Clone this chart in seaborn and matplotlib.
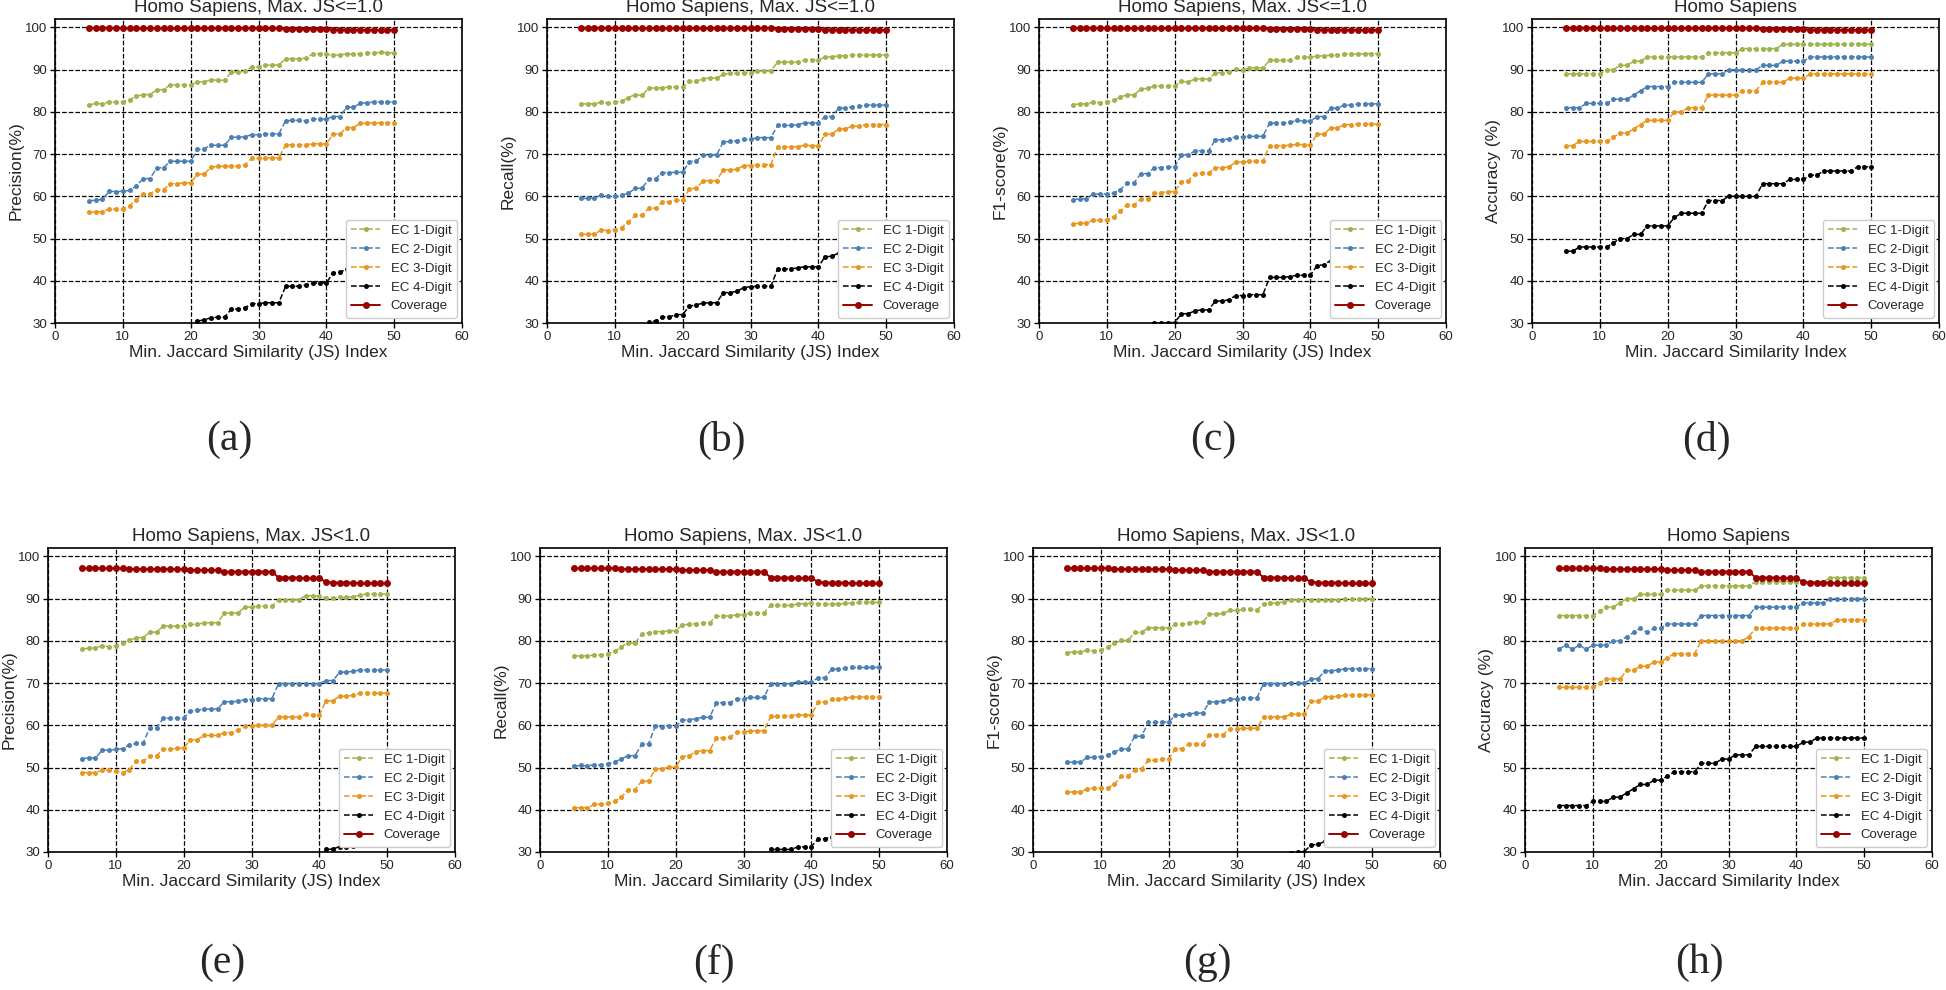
import matplotlib
matplotlib.use('Agg')
import matplotlib.pyplot as plt
import seaborn as sns

# Min. Jaccard similarity index (x axis)
JS_INDEX = [5, 6, 7, 8, 9, 10, 11, 12, 13, 14,
            15, 16, 17, 18, 19, 20, 21, 22, 23, 24,
            25, 26, 27, 28, 29, 30, 31, 32, 33, 34,
            35, 36, 37, 38, 39, 40, 41, 42, 43, 44,
            45, 46, 47, 48, 49, 50]

SERIES = ['EC 1-Digit', 'EC 2-Digit', 'EC 3-Digit', 'EC 4-Digit', 'Coverage']

# coverage, shared by each row
COV_LE = [99.9, 99.9, 99.9, 99.9, 99.9, 99.9, 99.8, 99.8, 99.8, 99.8,
          99.8, 99.8, 99.8, 99.8, 99.8, 99.8, 99.8, 99.8, 99.8, 99.8,
          99.8, 99.8, 99.8, 99.8, 99.8, 99.8, 99.8, 99.8, 99.8, 99.6,
          99.6, 99.6, 99.6, 99.6, 99.6, 99.6, 99.5, 99.5, 99.5, 99.5,
          99.4, 99.4, 99.4, 99.4, 99.4, 99.4]
COV_LT = [97.2, 97.2, 97.2, 97.2, 97.2, 97.2, 97.2, 97.0, 97.0, 97.0,
          97.0, 97.0, 97.0, 97.0, 97.0, 97.0, 96.8, 96.8, 96.8, 96.8,
          96.8, 96.4, 96.4, 96.4, 96.4, 96.4, 96.4, 96.4, 96.4, 95.0,
          95.0, 95.0, 95.0, 94.8, 94.8, 94.8, 94.0, 93.8, 93.8, 93.8,
          93.8, 93.6, 93.6, 93.6, 93.6, 93.6]

# (a) precision, max JS <= 1.0
PREC_LE_EC1 = [81.6, 82.0, 81.9, 82.4, 82.3, 82.4, 82.9, 83.7, 84.1, 84.1,
               85.2, 85.3, 86.4, 86.4, 86.4, 86.4, 87.1, 87.1, 87.6, 87.5,
               87.5, 89.4, 89.5, 89.6, 90.7, 90.7, 91.1, 91.1, 91.1, 92.6,
               92.6, 92.6, 92.7, 93.8, 93.8, 93.7, 93.4, 93.5, 93.7, 93.7,
               93.8, 93.9, 94.0, 94.1, 94.0, 94.0]
PREC_LE_EC2 = [58.9, 59.1, 59.3, 61.2, 61.1, 61.2, 61.4, 62.5, 64.2, 64.2,
               66.7, 66.8, 68.3, 68.3, 68.3, 68.3, 71.1, 71.3, 72.1, 72.1,
               72.1, 74.0, 74.0, 74.1, 74.6, 74.6, 74.8, 74.8, 74.8, 77.9,
               78.0, 78.0, 77.9, 78.4, 78.3, 78.3, 78.9, 78.9, 81.1, 81.1,
               82.0, 82.2, 82.3, 82.4, 82.4, 82.3]
PREC_LE_EC3 = [56.3, 56.3, 56.4, 57.0, 56.9, 57.0, 57.8, 59.2, 60.6, 60.6,
               61.6, 61.6, 63.0, 63.0, 63.2, 63.2, 65.2, 65.3, 66.9, 67.1,
               67.1, 67.1, 67.1, 67.5, 69.0, 69.0, 69.1, 69.1, 69.1, 72.2,
               72.2, 72.2, 72.2, 72.5, 72.4, 72.4, 74.8, 74.8, 76.3, 76.3,
               77.3, 77.3, 77.4, 77.4, 77.4, 77.4]
PREC_LE_EC4 = [22.0, 22.2, 22.3, 23.3, 23.3, 23.4, 23.6, 24.5, 25.8, 25.8,
               27.3, 27.4, 28.6, 28.6, 28.6, 28.7, 30.4, 30.8, 31.2, 31.4,
               31.4, 33.3, 33.3, 33.6, 34.6, 34.6, 34.8, 34.8, 34.8, 38.7,
               38.7, 38.7, 39.0, 39.4, 39.5, 39.5, 41.9, 42.0, 42.8, 42.8,
               43.1, 43.5, 43.6, 43.7, 43.7, 43.7]

# (b) recall, max JS <= 1.0
REC_LE_EC1 = [81.9, 81.9, 81.9, 82.3, 82.1, 82.3, 82.5, 83.4, 84.1, 83.9,
              85.6, 85.7, 85.7, 85.9, 85.9, 85.9, 87.2, 87.2, 87.9, 88.0,
              88.0, 88.9, 89.1, 89.1, 89.3, 89.3, 89.7, 89.7, 89.7, 91.8,
              91.8, 91.8, 91.8, 92.3, 92.3, 92.3, 93.0, 93.0, 93.3, 93.3,
              93.5, 93.5, 93.5, 93.5, 93.5, 93.5]
REC_LE_EC2 = [59.5, 59.5, 59.7, 60.2, 60.0, 60.0, 60.3, 60.7, 61.9, 61.9,
              64.1, 64.2, 65.6, 65.6, 65.7, 65.7, 68.2, 68.4, 69.7, 69.8,
              69.8, 72.9, 73.0, 73.2, 73.5, 73.5, 73.9, 73.9, 73.9, 76.8,
              76.8, 76.8, 77.0, 77.4, 77.4, 77.4, 78.9, 78.9, 80.9, 80.9,
              81.2, 81.3, 81.6, 81.6, 81.6, 81.6]
REC_LE_EC3 = [51.0, 51.0, 51.1, 52.0, 51.9, 52.1, 52.6, 54.0, 55.5, 55.5,
              57.2, 57.2, 58.7, 58.7, 59.1, 59.1, 61.8, 61.9, 63.7, 63.7,
              63.7, 66.3, 66.3, 66.4, 67.3, 67.3, 67.5, 67.5, 67.5, 71.7,
              71.7, 71.7, 71.8, 72.1, 72.0, 72.0, 74.7, 74.7, 76.0, 76.0,
              76.6, 76.6, 77.0, 77.0, 77.0, 77.0]
REC_LE_EC4 = [24.5, 24.6, 24.7, 25.2, 25.2, 25.3, 25.6, 26.5, 27.6, 27.6,
              30.2, 30.5, 31.4, 31.4, 32.0, 32.0, 34.0, 34.3, 34.7, 34.8,
              34.8, 37.2, 37.2, 37.5, 38.4, 38.6, 38.7, 38.7, 38.7, 42.8,
              42.8, 42.8, 43.1, 43.3, 43.3, 43.3, 45.7, 45.8, 46.6, 46.6,
              46.8, 47.0, 47.2, 47.3, 47.3, 47.3]

# (c) F1-score, max JS <= 1.0
F1_LE_EC1 = [81.7, 81.9, 81.9, 82.3, 82.2, 82.3, 82.7, 83.5, 84.1, 84.0,
             85.4, 85.6, 86.1, 86.1, 86.1, 86.1, 87.2, 87.1, 87.8, 87.8,
             87.8, 89.2, 89.3, 89.5, 90.2, 90.0, 90.4, 90.4, 90.4, 92.2,
             92.2, 92.2, 92.2, 92.9, 92.9, 93.0, 93.2, 93.3, 93.4, 93.4,
             93.7, 93.7, 93.7, 93.8, 93.8, 93.8]
F1_LE_EC2 = [59.2, 59.4, 59.4, 60.6, 60.5, 60.6, 60.8, 61.6, 63.2, 63.2,
             65.3, 65.4, 66.8, 66.8, 67.0, 67.0, 69.8, 69.8, 70.8, 70.8,
             70.8, 73.4, 73.4, 73.6, 74.1, 74.1, 74.2, 74.2, 74.2, 77.4,
             77.4, 77.4, 77.5, 78.0, 77.8, 77.8, 78.9, 78.9, 80.9, 80.9,
             81.6, 81.6, 81.9, 81.9, 81.9, 81.9]
F1_LE_EC3 = [53.5, 53.6, 53.6, 54.4, 54.3, 54.5, 55.2, 56.5, 58.0, 58.0,
             59.3, 59.4, 60.9, 60.9, 61.1, 61.1, 63.5, 63.7, 65.4, 65.5,
             65.5, 66.8, 66.8, 67.0, 68.1, 68.1, 68.3, 68.3, 68.3, 72.0,
             72.0, 72.0, 72.1, 72.3, 72.2, 72.2, 74.7, 74.7, 76.2, 76.2,
             77.0, 77.0, 77.1, 77.1, 77.1, 77.1]
F1_LE_EC4 = [23.5, 23.6, 23.6, 24.3, 24.3, 24.4, 24.6, 25.5, 26.7, 26.7,
             28.2, 28.3, 29.9, 29.9, 30.1, 30.1, 32.2, 32.2, 32.9, 33.1,
             33.1, 35.2, 35.2, 35.5, 36.5, 36.5, 36.7, 36.7, 36.7, 40.8,
             40.8, 40.8, 41.0, 41.3, 41.3, 41.3, 43.6, 43.8, 44.8, 44.8,
             45.0, 45.2, 45.4, 45.5, 45.5, 45.5]

# (d) accuracy, max JS <= 1.0
ACC_LE_EC1 = [89, 89, 89, 89, 89, 89, 90, 90, 91, 91,
              92, 92, 93, 93, 93, 93, 93, 93, 93, 93,
              93, 94, 94, 94, 94, 94, 95, 95, 95, 95,
              95, 95, 96, 96, 96, 96, 96, 96, 96, 96,
              96, 96, 96, 96, 96, 96]
ACC_LE_EC2 = [81, 81, 81, 82, 82, 82, 82, 83, 83, 83,
              84, 85, 86, 86, 86, 86, 87, 87, 87, 87,
              87, 89, 89, 89, 90, 90, 90, 90, 90, 91,
              91, 91, 92, 92, 92, 92, 93, 93, 93, 93,
              93, 93, 93, 93, 93, 93]
ACC_LE_EC3 = [72, 72, 73, 73, 73, 73, 73, 74, 75, 75,
              76, 77, 78, 78, 78, 78, 80, 80, 81, 81,
              81, 84, 84, 84, 84, 84, 85, 85, 85, 87,
              87, 87, 87, 88, 88, 88, 89, 89, 89, 89,
              89, 89, 89, 89, 89, 89]
ACC_LE_EC4 = [47, 47, 48, 48, 48, 48, 48, 49, 50, 50,
              51, 51, 53, 53, 53, 53, 55, 56, 56, 56,
              56, 59, 59, 59, 60, 60, 60, 60, 60, 63,
              63, 63, 63, 64, 64, 64, 65, 65, 66, 66,
              66, 66, 66, 67, 67, 67]

# (e) precision, max JS < 1.0
PREC_LT_EC1 = [78.0, 78.3, 78.3, 78.9, 78.6, 78.9, 79.4, 80.1, 80.8, 80.8,
               82.0, 82.1, 83.5, 83.5, 83.5, 83.5, 83.9, 83.9, 84.3, 84.3,
               84.3, 86.6, 86.6, 86.6, 88.0, 88.0, 88.2, 88.2, 88.2, 89.8,
               89.8, 89.6, 89.8, 90.7, 90.7, 90.6, 90.2, 90.2, 90.3, 90.3,
               90.5, 90.8, 91.1, 91.1, 91.1, 91.1]
PREC_LT_EC2 = [52.1, 52.3, 52.2, 54.2, 54.1, 54.3, 54.5, 55.4, 55.7, 55.7,
               59.4, 59.4, 61.7, 61.7, 61.7, 61.7, 63.4, 63.6, 63.8, 63.9,
               63.9, 65.6, 65.6, 65.7, 66.1, 66.1, 66.3, 66.3, 66.3, 69.9,
               69.9, 69.9, 69.9, 69.9, 69.8, 69.9, 70.6, 70.6, 72.6, 72.6,
               72.8, 73.1, 73.1, 73.1, 73.1, 73.1]
PREC_LT_EC3 = [48.8, 48.8, 48.8, 49.4, 49.4, 49.2, 48.8, 49.5, 51.5, 51.5,
               52.8, 52.8, 54.4, 54.3, 54.6, 54.6, 56.6, 56.6, 57.6, 57.6,
               57.6, 58.3, 58.3, 58.9, 59.9, 59.9, 60.0, 60.0, 60.0, 62.0,
               62.0, 62.0, 62.0, 62.6, 62.5, 62.5, 65.8, 65.8, 66.9, 66.9,
               67.1, 67.6, 67.6, 67.6, 67.6, 67.6]
PREC_LT_EC4 = [15.0, 15.2, 15.2, 16.0, 16.0, 16.1, 16.3, 16.8, 17.0, 17.0,
               18.5, 18.5, 19.6, 19.6, 19.6, 19.6, 20.4, 20.5, 20.6, 20.6,
               20.6, 21.4, 21.4, 21.5, 22.0, 22.0, 22.1, 22.1, 22.1, 25.5,
               25.5, 25.5, 25.5, 26.0, 26.0, 26.0, 30.6, 30.7, 31.3, 31.3,
               31.5, 31.7, 31.8, 31.9, 31.9, 31.9]

# (f) recall, max JS < 1.0
REC_LT_EC1 = [76.4, 76.5, 76.4, 76.7, 76.7, 77.0, 77.5, 78.6, 79.6, 79.4,
              81.7, 81.9, 82.2, 82.2, 82.4, 82.4, 83.8, 83.9, 84.1, 84.3,
              84.3, 85.8, 85.9, 85.9, 86.2, 86.2, 86.6, 86.6, 86.6, 88.4,
              88.4, 88.4, 88.4, 88.8, 88.8, 88.9, 88.8, 88.7, 88.7, 88.7,
              88.9, 88.9, 89.1, 89.1, 89.1, 89.1]
REC_LT_EC2 = [50.3, 50.5, 50.4, 50.7, 50.6, 50.9, 51.3, 52.1, 52.8, 52.8,
              55.5, 55.6, 59.8, 59.7, 59.8, 59.8, 61.2, 61.3, 61.6, 61.9,
              61.9, 65.3, 65.4, 65.4, 66.3, 66.3, 66.6, 66.6, 66.6, 69.8,
              69.8, 69.8, 69.9, 70.3, 70.2, 70.2, 71.3, 71.3, 73.3, 73.3,
              73.5, 73.7, 73.7, 73.7, 73.7, 73.7]
REC_LT_EC3 = [40.5, 40.5, 40.5, 41.3, 41.3, 41.5, 42.0, 43.0, 44.8, 44.8,
              46.8, 46.8, 49.7, 49.7, 50.1, 50.1, 52.6, 52.8, 53.8, 54.0,
              54.0, 57.0, 57.0, 57.2, 58.4, 58.4, 58.7, 58.7, 58.7, 62.1,
              62.1, 62.1, 62.3, 62.5, 62.4, 62.4, 65.6, 65.5, 66.2, 66.2,
              66.4, 66.7, 66.7, 66.7, 66.7, 66.7]
REC_LT_EC4 = [17.5, 17.6, 17.6, 17.9, 17.9, 18.0, 18.3, 18.8, 19.4, 19.4,
              20.6, 20.6, 22.5, 22.5, 22.6, 22.6, 23.5, 23.6, 23.8, 24.0,
              24.0, 25.8, 25.9, 25.9, 26.5, 26.5, 26.7, 26.7, 26.7, 30.6,
              30.6, 30.6, 30.6, 31.2, 31.2, 31.3, 33.1, 33.1, 33.6, 33.6,
              33.9, 34.1, 34.2, 34.3, 34.3, 34.3]

# (g) F1-score, max JS < 1.0
F1_LT_EC1 = [77.2, 77.4, 77.4, 77.8, 77.6, 77.8, 78.5, 79.4, 80.1, 80.1,
             82.0, 82.0, 83.1, 83.1, 83.1, 83.1, 83.9, 83.9, 84.3, 84.4,
             84.4, 86.3, 86.3, 86.5, 87.2, 87.2, 87.5, 87.5, 87.3, 88.8,
             88.9, 89.0, 89.2, 89.7, 89.7, 89.8, 89.6, 89.6, 89.6, 89.6,
             89.8, 90.0, 90.0, 90.0, 90.0, 90.0]
F1_LT_EC2 = [51.2, 51.3, 51.3, 52.4, 52.4, 52.6, 52.9, 53.7, 54.4, 54.4,
             57.4, 57.4, 60.7, 60.7, 60.8, 60.8, 62.4, 62.4, 62.7, 62.9,
             62.9, 65.5, 65.6, 65.7, 66.2, 66.2, 66.5, 66.5, 66.5, 69.9,
             69.9, 69.9, 69.9, 70.1, 70.0, 70.0, 71.0, 71.0, 72.9, 72.9,
             73.1, 73.4, 73.4, 73.4, 73.4, 73.4]
F1_LT_EC3 = [44.2, 44.2, 44.2, 45.0, 45.1, 45.2, 45.2, 46.0, 47.9, 47.9,
             49.5, 49.7, 51.7, 51.7, 52.1, 52.1, 54.4, 54.5, 55.6, 55.6,
             55.6, 57.7, 57.7, 57.8, 59.2, 59.2, 59.3, 59.3, 59.3, 62.0,
             62.0, 62.0, 62.0, 62.6, 62.6, 62.6, 65.7, 65.7, 66.7, 66.7,
             66.9, 67.1, 67.2, 67.2, 67.2, 67.2]
F1_LT_EC4 = [16.5, 16.6, 16.6, 17.2, 17.2, 17.3, 17.5, 18.0, 18.4, 18.4,
             19.8, 19.8, 21.3, 21.3, 21.4, 21.4, 22.3, 22.4, 22.6, 22.7,
             22.7, 24.1, 24.2, 24.2, 24.9, 24.9, 25.1, 25.1, 25.1, 29.0,
             29.0, 29.0, 29.1, 29.8, 29.9, 30.1, 31.7, 31.8, 32.5, 32.5,
             32.7, 32.9, 33.0, 33.1, 33.1, 33.1]

# (h) accuracy, max JS < 1.0
ACC_LT_EC1 = [86, 86, 86, 86, 86, 86, 87, 88, 88, 89,
              90, 90, 91, 91, 91, 91, 92, 92, 92, 92,
              92, 93, 93, 93, 93, 93, 93, 93, 93, 94,
              94, 94, 94, 94, 94, 94, 94, 94, 94, 94,
              95, 95, 95, 95, 95, 95]
ACC_LT_EC2 = [78, 79, 78, 79, 78, 79, 79, 79, 80, 80,
              81, 82, 83, 82, 83, 83, 84, 84, 84, 84,
              84, 86, 86, 86, 86, 86, 86, 86, 86, 88,
              88, 88, 88, 88, 88, 88, 89, 89, 89, 89,
              90, 90, 90, 90, 90, 90]
ACC_LT_EC3 = [69, 69, 69, 69, 69, 69, 70, 71, 71, 71,
              73, 73, 74, 74, 75, 75, 76, 77, 77, 77,
              77, 80, 80, 80, 80, 80, 80, 80, 81, 83,
              83, 83, 83, 83, 83, 83, 84, 84, 84, 84,
              84, 85, 85, 85, 85, 85]
ACC_LT_EC4 = [41, 41, 41, 41, 41, 42, 42, 42, 43, 43,
              44, 45, 46, 46, 47, 47, 48, 49, 49, 49,
              49, 51, 51, 51, 52, 52, 53, 53, 53, 55,
              55, 55, 55, 55, 55, 55, 56, 56, 57, 57,
              57, 57, 57, 57, 57, 57]

TITLE_LE = 'Homo Sapiens, Max. JS<=1.0'
TITLE_LT = 'Homo Sapiens, Max. JS<1.0'
XLABEL_JS = 'Min. Jaccard Similarity (JS) Index'
XLABEL_PLAIN = 'Min. Jaccard Similarity Index'

# (letter, title, ylabel, xlabel, series list)
PANELS = [
    ('(a)', TITLE_LE, 'Precision(%)', XLABEL_JS, [PREC_LE_EC1, PREC_LE_EC2, PREC_LE_EC3, PREC_LE_EC4, COV_LE]),
    ('(b)', TITLE_LE, 'Recall(%)', XLABEL_JS, [REC_LE_EC1, REC_LE_EC2, REC_LE_EC3, REC_LE_EC4, COV_LE]),
    ('(c)', TITLE_LE, 'F1-score(%)', XLABEL_JS, [F1_LE_EC1, F1_LE_EC2, F1_LE_EC3, F1_LE_EC4, COV_LE]),
    ('(d)', 'Homo Sapiens', 'Accuracy (%)', XLABEL_PLAIN, [ACC_LE_EC1, ACC_LE_EC2, ACC_LE_EC3, ACC_LE_EC4, COV_LE]),
    ('(e)', TITLE_LT, 'Precision(%)', XLABEL_JS, [PREC_LT_EC1, PREC_LT_EC2, PREC_LT_EC3, PREC_LT_EC4, COV_LT]),
    ('(f)', TITLE_LT, 'Recall(%)', XLABEL_JS, [REC_LT_EC1, REC_LT_EC2, REC_LT_EC3, REC_LT_EC4, COV_LT]),
    ('(g)', TITLE_LT, 'F1-score(%)', XLABEL_JS, [F1_LT_EC1, F1_LT_EC2, F1_LT_EC3, F1_LT_EC4, COV_LT]),
    ('(h)', 'Homo Sapiens', 'Accuracy (%)', XLABEL_PLAIN, [ACC_LT_EC1, ACC_LT_EC2, ACC_LT_EC3, ACC_LT_EC4, COV_LT]),
]

COLORS = ['#9db54c', '#4c80b5', '#e8961e', 'black', '#990000']

sns.set_theme(style='ticks')
plt.rcParams['font.family'] = ['Liberation Sans', 'DejaVu Sans']

W, H = 1946, 990
fig = plt.figure(figsize=(W / 100, H / 100), dpi=100)

# axes placement in pixels: left edges per row, top edges per row
lefts = [[55, 547, 1039, 1532], [48, 540, 1033, 1525]]
tops = [19, 548]
ax_w, ax_h = 407, 304

for i, (letter, title, ylabel, xlabel, series) in enumerate(PANELS):
    row, col = divmod(i, 4)
    left = lefts[row][col]
    top = tops[row]
    ax = fig.add_axes([left / W, 1 - (top + ax_h) / H, ax_w / W, ax_h / H])

    for name, values, color in zip(SERIES, series, COLORS):
        if name == 'Coverage':
            sns.lineplot(x=JS_INDEX, y=values, ax=ax, color=color, label=name,
                         linestyle='-', linewidth=1.4, marker='o', markersize=5,
                         markeredgecolor=color, markeredgewidth=0, zorder=4)
        else:
            sns.lineplot(x=JS_INDEX, y=values, ax=ax, color=color, label=name,
                         linestyle='--', linewidth=1.1, marker='o', markersize=3.6,
                         markeredgecolor=color, markeredgewidth=0, zorder=3)

    ax.set_xlim(0, 60)
    ax.set_ylim(30, 102)
    ax.set_xticks([0, 10, 20, 30, 40, 50, 60])
    ax.set_yticks([30, 40, 50, 60, 70, 80, 90, 100])
    ax.grid(True, color='black', linestyle='--', linewidth=0.9)
    ax.tick_params(labelsize=9.5, length=3.5, width=1, color='black', pad=2)
    for sp in ax.spines.values():
        sp.set_color('black')
        sp.set_linewidth(1.2)

    ax.set_title(title, fontsize=13.5, pad=5)
    ax.set_xlabel(xlabel, fontsize=12.5, labelpad=2)
    ax.set_ylabel(ylabel, fontsize=12.5, labelpad=1)

    leg = ax.legend(loc='lower right', fontsize=9.5, framealpha=1,
                    borderaxespad=0.4, handlelength=2.2)
    leg.set_zorder(10)

    # panel letter below the axes
    cx = left + 174
    cy = 440 if row == 0 else 963
    fig.text(cx / W, 1 - cy / H, letter, fontsize=30, ha='center', va='center',
             family=['Liberation Serif', 'DejaVu Serif'])

fig.savefig('out.png', dpi=100)
